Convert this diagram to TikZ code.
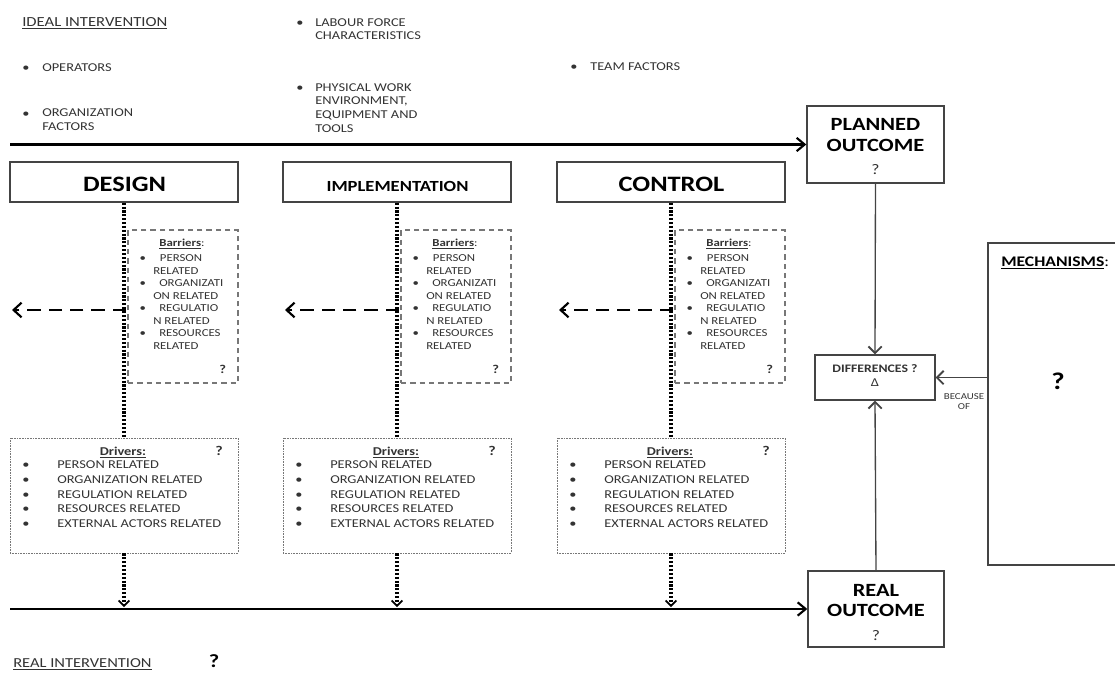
\documentclass[tikz,border=0pt]{standalone}
\usepackage{fontspec}
\setmainfont{Carlito}[FakeStretch=1.2]
\usetikzlibrary{arrows.meta}
\definecolor{txt}{HTML}{333333}
\definecolor{frame}{HTML}{444444}
\definecolor{lightframe}{HTML}{777777}
\begin{document}
\begin{tikzpicture}[x=0.75pt,y=-0.75pt,
  small/.style={font=\fontsize{9}{10.2}\selectfont, text=txt, inner sep=0pt, anchor=base west, align=left},
  head/.style={font=\fontsize{10.4}{12}\selectfont, text=txt, inner sep=0pt, anchor=base west},
  barlines/.style={font=\fontsize{8}{9.43}\selectfont, text=txt, inner sep=0pt, anchor=base west, align=left},
  drvlines/.style={font=\fontsize{9}{10.9}\selectfont, text=txt, inner sep=0pt, anchor=base west, align=left},
  bigtxt/.style={font=\bfseries\fontsize{14}{14}\selectfont, inner sep=0pt, anchor=base},
  stagebox/.style={draw=frame, line width=1pt, minimum width=171pt, minimum height=30pt, inner sep=0pt},
  outbox/.style={draw=frame, line width=1pt, inner sep=0pt},
  barbox/.style={draw=lightframe, line width=1.1pt, dash pattern=on 4pt off 3pt, minimum width=82.5pt, minimum height=114.75pt, inner sep=0pt},
  drvbox/.style={draw=lightframe, line width=0.7pt, dash pattern=on 0.6pt off 0.6pt, minimum width=171pt, minimum height=86.25pt, inner sep=0pt},
  mainline/.style={line width=2pt, -{Straight Barb[length=6pt,width=10pt,line width=1.6pt]}},
  dotline/.style={line width=2.4pt, dash pattern=on 1.6pt off 1.3pt},
  dashline/.style={line width=1.8pt, dash pattern=on 10pt off 6pt, -{Straight Barb[length=6pt,width=11pt,line width=1.6pt]}},
  thinline/.style={draw=frame, line width=1pt, -{Straight Barb[length=5pt,width=10pt,line width=1.4pt]}},
  dottip/.style={-{Straight Barb[length=4pt,width=8pt,line width=1.3pt]}}
]
\useasboundingbox (0,0) rectangle (1115,675);
\clip (0,0) rectangle (1115,675);

% ---------- top texts (multi-line nodes are anchored at the baseline of their last line)
\node[head] (ideal) at (22,26) {\underline{IDEAL INTERVENTION}};
\node[small] (bop) at (22,71) {\textbullet};
\node[small] (ops) at (42,71) {OPERATORS};
\node[small] (borg) at (22,117) {\textbullet};
\node[small, font=\fontsize{9}{10}\selectfont] (org) at (42,130.3) {ORGANIZATION\\FACTORS};
\node[small] (blab) at (296,26) {\textbullet};
\node[small, font=\fontsize{9}{10.1}\selectfont] (lab) at (315,39.5) {LABOUR FORCE\\CHARACTERISTICS};
\node[small] (bphy) at (296,91) {\textbullet};
\node[small, font=\fontsize{9}{10.4}\selectfont] (phy) at (315,132.6) {PHYSICAL WORK\\ENVIRONMENT,\\EQUIPMENT AND\\TOOLS};
\node[small] (bteam) at (570,70) {\textbullet};
\node[small] (team) at (590,70) {TEAM FACTORS};

% ---------- outcome boxes
\node[outbox, minimum width=102.75pt, minimum height=57.75pt] (planned) at (875.5,144.5) {};
\node[bigtxt] (plannedA) at (875.5,130) {PLANNED};
\node[bigtxt] (plannedB) at (875.5,151.5) {OUTCOME};
\node[inner sep=0pt, anchor=base, font=\fontsize{11}{11}\selectfont, text=txt] (plannedQ) at (875.5,174) {?};

\node[outbox, minimum width=102pt, minimum height=57pt] (real) at (876,609) {};
\node[bigtxt] (realA) at (876,596) {REAL};
\node[bigtxt] (realB) at (876,616.5) {OUTCOME};
\node[inner sep=0pt, anchor=base, font=\fontsize{11}{11}\selectfont, text=txt] (realQ) at (876,640) {?};

\node[outbox, line width=0.9pt, minimum width=90pt, minimum height=33.75pt] (diff) at (875,377.5) {};
\node[inner sep=0pt, anchor=base, font=\bfseries\fontsize{8.6}{8.6}\selectfont, text=txt] (diffA) at (875,372.5) {DIFFERENCES ?};
\node[inner sep=0pt, anchor=base, font=\fontsize{9}{9}\selectfont, text=txt] (diffB) at (875,386.5) {Δ};

\node[outbox, line width=1.1pt, minimum width=99pt, minimum height=241.5pt] (mech) at (1054,404) {};
\node[inner sep=0pt, anchor=base west, font=\fontsize{11}{11}\selectfont] (mechA) at (1001,266.5) {\textbf{\underline{MECHANISMS}}:};
\node[inner sep=0pt, anchor=base, font=\bfseries\fontsize{18}{18}\selectfont] (mechQ) at (1058,389) {?};

\node[inner sep=0pt, anchor=base, align=center, font=\fontsize{6.8}{7.7}\selectfont, text=txt] (because) at (964,409.3) {BECAUSE\\OF};

% ---------- main lines
\coordinate (idealstart) at (10,144.5);
\draw[mainline] (idealstart) -- (planned.west);
\coordinate (realstart) at (10,609);
\draw[mainline] (realstart) -- (real.west);

\draw[thinline] (planned.south) -- (diff.north);
\draw[thinline] (real.north) -- (diff.south);
\draw[thinline] (mech.west |- diff.east) -- (diff.east);

% ---------- stages
\foreach \i/\dx/\name/\fs in {1/0/DESIGN/16.5, 2/273/IMPLEMENTATION/11.6, 3/547/CONTROL/16.5}{
\begin{scope}[shift={(\dx,0)}]
  \node[stagebox] (stage\i) at (124,182) {};
  \node[inner sep=0pt, anchor=base, font=\bfseries\fontsize{\fs}{\fs}\selectfont] (stagelbl\i) at (124.5,191) {\name};

  \node[barbox] (bar\i) at (183,306.5) {};
  \node[barlines, anchor=base, font=\bfseries\fontsize{8}{9.5}\selectfont] (bart\i) at (182,246.5) {\underline{Barriers}\textmd{:}};
  \node[barlines] (barl\i) at (153,349.5) {\llap{\textbullet\hspace{5.5pt}}\hspace{5pt}PERSON\\RELATED\\\llap{\textbullet\hspace{5.5pt}}\hspace{4.5pt}ORGANIZATI\\ON RELATED\\\llap{\textbullet\hspace{5.5pt}}\hspace{4.5pt}REGULATIO\\N RELATED\\\llap{\textbullet\hspace{5.5pt}}\hspace{4.5pt}RESOURCES\\RELATED};
  \node[barlines, font=\bfseries\fontsize{9}{9}\selectfont] (barq\i) at (219,373) {?};

  \node[drvbox] (drv\i) at (124,495.5) {};
  \node[drvlines, anchor=base, font=\bfseries\fontsize{9}{10}\selectfont] (drvt\i) at (123,455) {\underline{Drivers:}};
  \node[drvlines, font=\bfseries\fontsize{10}{10}\selectfont] (drvq\i) at (215,455) {?};
  \node[drvlines] (drvb\i) at (22,527.1) {\textbullet\\\textbullet\\\textbullet\\\textbullet\\\textbullet};
  \node[drvlines] (drvl\i) at (57,527.1) {PERSON RELATED\\ORGANIZATION RELATED\\REGULATION RELATED\\RESOURCES RELATED\\EXTERNAL ACTORS RELATED};

  \draw[dotline] (stage\i.south) -- (drv\i.north);
  \coordinate (hit\i) at (124,607);
  \draw[dotline, dottip] (drv\i.south) -- (hit\i);
  \coordinate (bs\i) at (126,310);
  \coordinate (be\i) at (12,310);
  \draw[dashline] (bs\i) -- (be\i);
\end{scope}
}

% ---------- bottom texts
\node[head, font=\fontsize{10.3}{12}\selectfont] (realint) at (13,667) {\underline{REAL INTERVENTION}};
\node[inner sep=0pt, anchor=base, font=\bfseries\fontsize{14}{14}\selectfont] (realintQ) at (214,667) {?};
\end{tikzpicture}
\end{document}
